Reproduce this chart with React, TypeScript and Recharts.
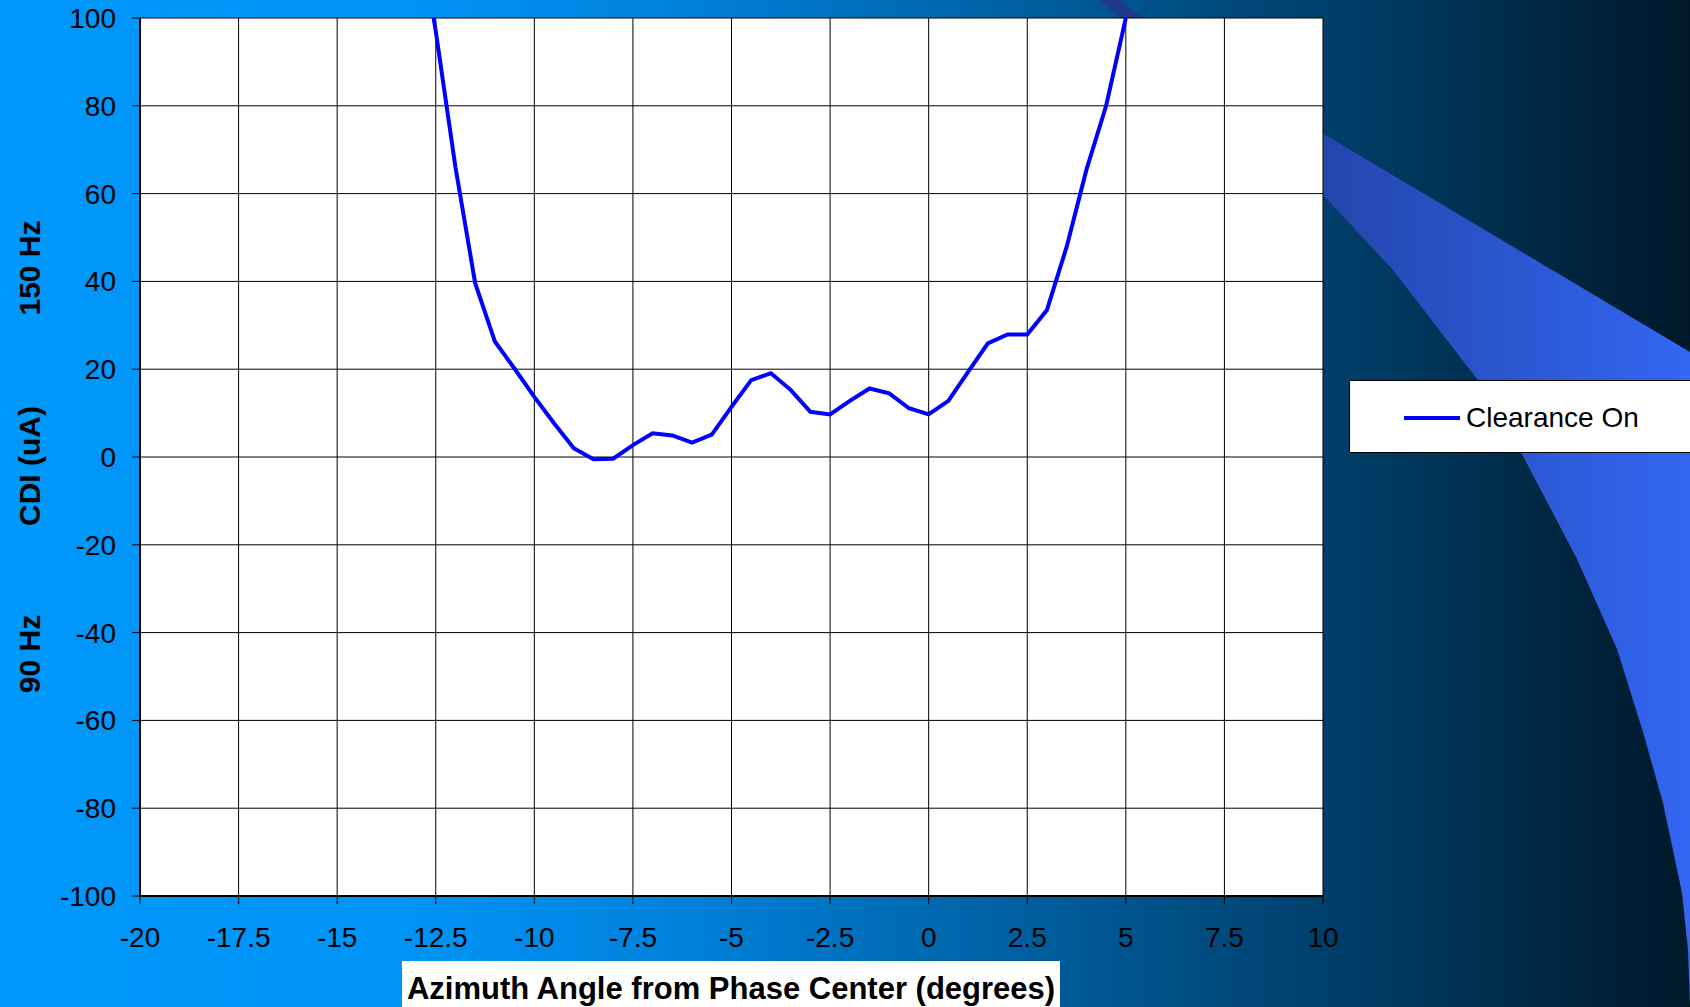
import { LineChart, Line, XAxis, YAxis, CartesianGrid, Legend } from "recharts";

// azimuth angle (deg) and CDI (uA)
const angles = [
  -13, -12.5, -12, -11.5, -11, -10.5, -10, -9.5, -9, -8.5, -8, -7.5, -7, -6.5, -6, -5.5, -5, -4.5, -4,
  -3.5, -3, -2.5, -2, -1.5, -1, -0.5, 0, 0.5, 1, 1.5, 2, 2.5, 3, 3.5, 4, 4.5, 5,
];
const clearanceOn = [
  125, 97, 66, 39.6, 26.3, 20.1, 13.7, 7.7, 2.0, -0.5, -0.4, 2.7, 5.4, 4.9, 3.3, 5.1, 11.4, 17.5, 19.1,
  15.3, 10.3, 9.7, 12.8, 15.6, 14.5, 11.1, 9.7, 12.8, 19.4, 25.9, 27.9, 27.9, 33.5, 47.9, 65.4, 80, 100,
];
const xTicks = [-20, -17.5, -15, -12.5, -10, -7.5, -5, -2.5, 0, 2.5, 5, 7.5, 10];
const yTicks = [-100, -80, -60, -40, -20, 0, 20, 40, 60, 80, 100];

const data = angles.map((angle, i) => ({ angle, cdi: clearanceOn[i] }));

const FONT = '"Liberation Sans", Arial, sans-serif';

function LegendBox() {
  return (
    <div
      style={{
        width: 360,
        height: 73,
        background: "#fff",
        border: "1px solid #000",
        boxSizing: "border-box",
        position: "relative",
        fontFamily: FONT,
      }}
    >
      <div style={{ position: "absolute", left: 54, top: 35, width: 56, height: 4, background: "#0000ff" }} />
      <div style={{ position: "absolute", left: 116, top: 21, fontSize: 28, lineHeight: "32px", color: "#000" }}>
        Clearance On
      </div>
    </div>
  );
}

export default function App() {
  return (
    <div
      style={{
        position: "absolute",
        left: 0,
        top: 0,
        width: 1690,
        height: 1007,
        overflow: "hidden",
        background:
          "linear-gradient(to right, #0098fb 0%, #0094f6 24%, #0082dc 40%, #0064a8 58%, #004778 74%, #00365c 84%, #00243e 93%, #00182a 100%)",
      }}
    >
      <svg width={1690} height={1007} style={{ position: "absolute", left: 0, top: 0 }}>
        <defs>
          <linearGradient id="swoosh" x1="0" x2="1" y1="0" y2="0">
            <stop offset="0%" stopColor="#2344a8" />
            <stop offset="100%" stopColor="#3366f2" />
          </linearGradient>
        </defs>
        <polygon points="1098,0 1120,0 1145,19 1122,19" fill="#1e3a8a" />
        <path
          d="M1300,120 L1690,352 L1690,1007 L1688,950 L1682,893 L1663,803 L1643,732 L1617,649 L1577,559 L1523,456 L1477,379 L1393,270 L1300,170 Z"
          fill="url(#swoosh)"
        />
      </svg>
      <div style={{ position: "absolute", left: 0, top: 0 }}>
        <LineChart width={1690} height={1007} data={data} margin={{ top: 18, right: 367, bottom: 0, left: 0 }}>
          <CartesianGrid stroke="#000" strokeWidth={1} fill="#fff" fillOpacity={1} />
          <XAxis
            type="number"
            dataKey="angle"
            domain={[-20, 10]}
            ticks={xTicks}
            interval={0}
            height={111}
            tickSize={8}
            tickMargin={23}
            axisLine={{ stroke: "#000", strokeWidth: 2 }}
            tickLine={{ stroke: "#000" }}
            tick={{ fill: "#000", fontSize: 28, fontFamily: FONT }}
          />
          <YAxis
            type="number"
            domain={[-100, 100]}
            ticks={yTicks}
            interval={0}
            allowDataOverflow
            width={140}
            tickSize={8}
            tickMargin={16}
            axisLine={{ stroke: "#000", strokeWidth: 2 }}
            tickLine={{ stroke: "#000" }}
            tick={{ fill: "#000", fontSize: 28, fontFamily: FONT }}
          />
          <Legend
            layout="horizontal"
            verticalAlign="middle"
            align="center"
            content={() => <LegendBox />}
            wrapperStyle={{ position: "absolute", left: 1349, top: 380, width: 360, height: 73 }}
          />
          <Line
            type="linear"
            dataKey="cdi"
            name="Clearance On"
            stroke="#0000ff"
            strokeWidth={4}
            dot={false}
            isAnimationActive={false}
          />
        </LineChart>
      </div>
      <svg width={1690} height={1007} style={{ position: "absolute", left: 0, top: 0, pointerEvents: "none" }}>
        <g fontFamily={FONT} fontWeight="bold" fontSize={30} fill="#000" textAnchor="middle">
          <text transform="translate(40,268) rotate(-90)">150 Hz</text>
          <text transform="translate(40,466) rotate(-90)">CDI (uA)</text>
          <text transform="translate(40,654) rotate(-90)">90 Hz</text>
        </g>
        <rect x={402} y={961} width={658} height={60} fill="#fff" />
        <text x={731} y={999} fontFamily={FONT} fontWeight="bold" fontSize={31} fill="#000" textAnchor="middle">
          Azimuth Angle from Phase Center (degrees)
        </text>
      </svg>
    </div>
  );
}
